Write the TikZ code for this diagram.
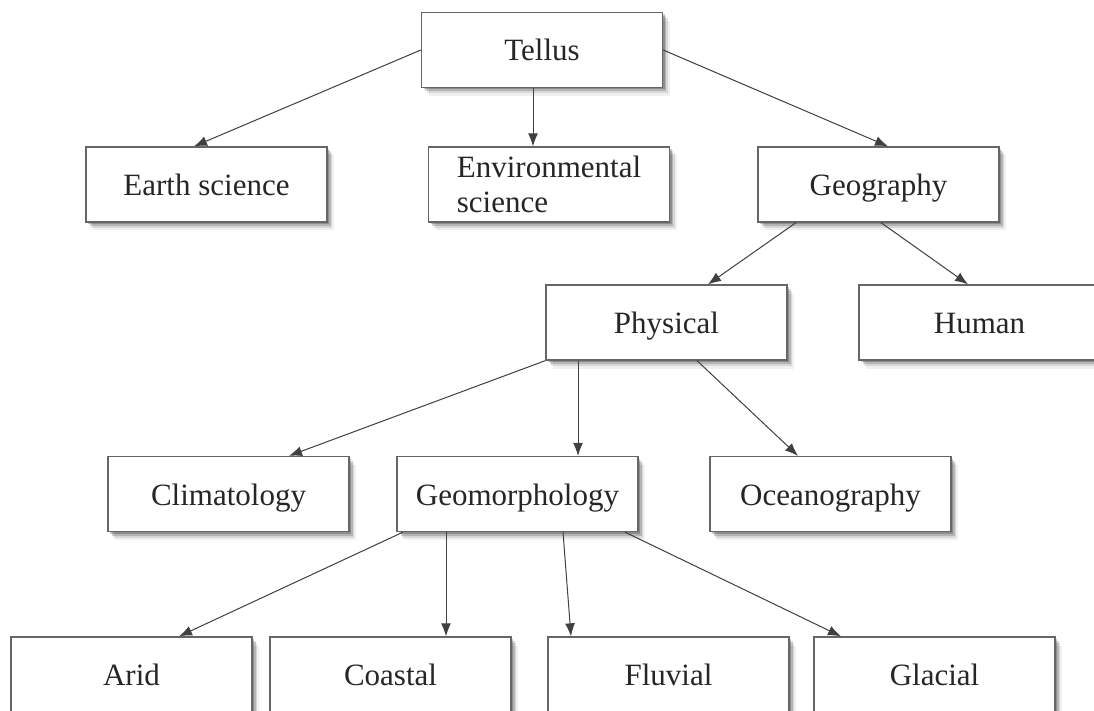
\documentclass[tikz,border=0pt]{standalone}
\usepackage{fontspec}
\setmainfont{Liberation Serif}
\usetikzlibrary{shadows,arrows.meta}
\tikzset{
  box/.style={draw=black!60, line width=1.3pt, fill=white, rectangle,
    minimum width=241pt, minimum height=75pt, inner sep=0pt,
    text=black!85, font=\fontsize{31}{35}\selectfont,
    text height=25pt, text depth=3pt,
    drop shadow={shadow xshift=2pt, shadow yshift=-2pt, opacity=.22, fill=black},
    drop shadow={shadow xshift=3.5pt, shadow yshift=-4pt, opacity=.16, fill=black},
    drop shadow={shadow xshift=5pt, shadow yshift=-6pt, opacity=.10, fill=black},
    drop shadow={shadow xshift=7pt, shadow yshift=-8.5pt, opacity=.06, fill=black}},
  conn/.style={draw=black!75, line width=1pt, -{Latex[length=13pt,width=10pt]}}
}
\begin{document}
\begin{tikzpicture}[x=1pt,y=-1pt]
\useasboundingbox (0,0) rectangle (1094,711);
\clip (0,0) rectangle (1094,711);
\fill[white] (0,0) rectangle (1094,711);
\node[box] (tellus) at (542,50) {Tellus};
\node[box] (earth) at (206.5,184.5) {Earth science};
\node[box, align=left, text height=, text depth=] (env) at (549,184.5) {Environmental\\science};
\node[box] (geo) at (878.5,184.5) {Geography};
\node[box] (phys) at (666.5,322.5) {Physical};
\node[box] (human) at (979.5,322.5) {Human};
\node[box] (clim) at (228.5,494) {Climatology};
\node[box] (geom) at (517.5,494) {Geomorphology};
\node[box] (ocean) at (830.5,494) {Oceanography};
\node[box] (arid) at (131.5,674.5) {Arid};
\node[box] (coastal) at (390.5,674.5) {Coastal};
\node[box] (fluvial) at (668.5,674.5) {Fluvial};
\node[box] (glacial) at (934.5,674.5) {Glacial};

\draw[conn] (tellus.west) -- ([xshift=-12.5pt]earth.north);
\draw[conn] ([xshift=-9pt]tellus.south) -- ([xshift=-16pt]env.north);
\draw[conn] (tellus.east) -- ([xshift=9.5pt]geo.north);
\draw[conn] ([xshift=-82.5pt]geo.south) -- ([xshift=41.5pt]phys.north);
\draw[conn] ([xshift=2.5pt]geo.south) -- ([xshift=-11.5pt]human.north);
\draw[conn] (phys.south west) -- ([xshift=60.5pt]clim.north);
\draw[conn] ([xshift=-88.5pt]phys.south) -- ([xshift=60.5pt]geom.north);
\draw[conn] ([xshift=30.5pt]phys.south) -- ([xshift=-32.5pt]ocean.north);
\draw[conn] ([xshift=-114.5pt]geom.south) -- ([xshift=47.5pt]arid.north);
\draw[conn] ([xshift=-71.5pt]geom.south) -- ([xshift=55.5pt]coastal.north);
\draw[conn] ([xshift=45.5pt]geom.south) -- ([xshift=-97.5pt]fluvial.north);
\draw[conn] ([xshift=107.5pt]geom.south) -- ([xshift=-93.5pt]glacial.north);
\end{tikzpicture}
\end{document}
